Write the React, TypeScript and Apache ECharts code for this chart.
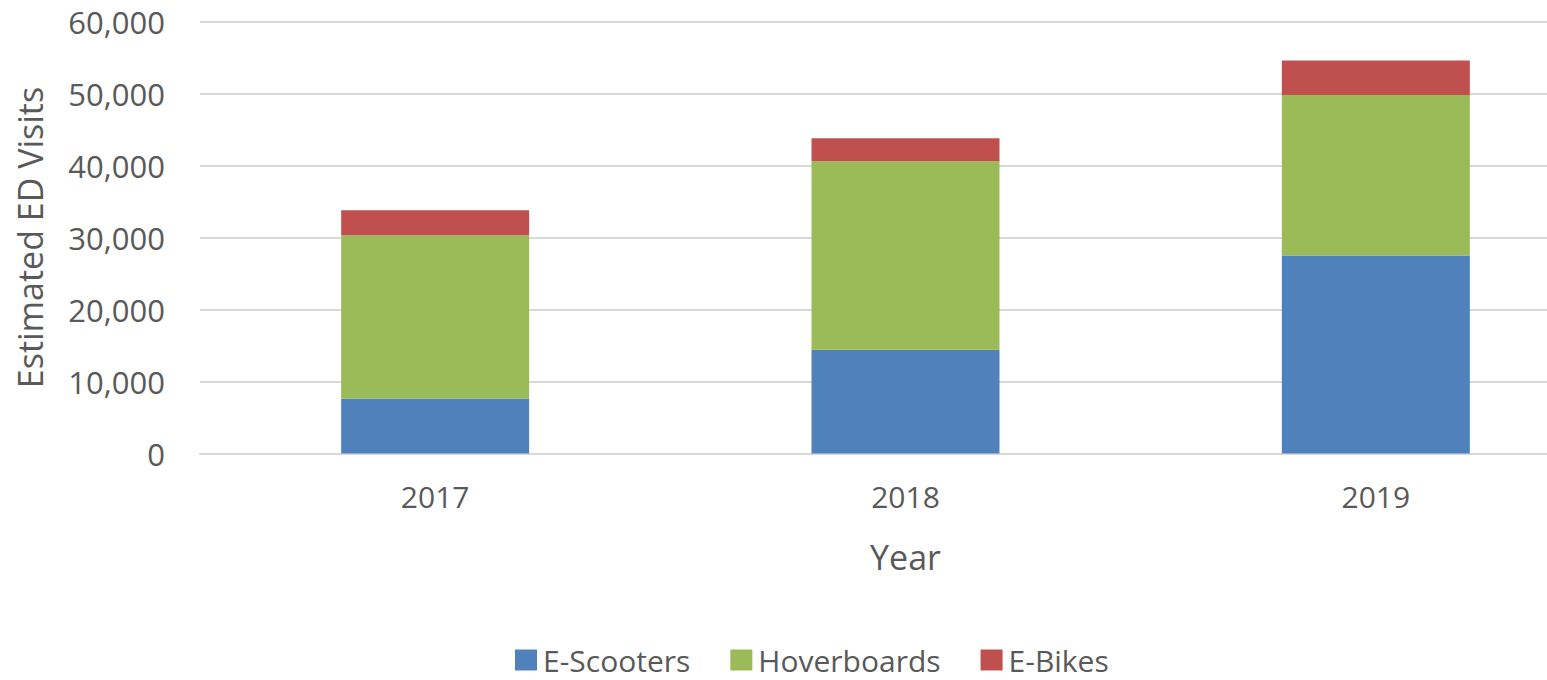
import React, { useEffect, useRef } from "react";
import * as echarts from "echarts";

const years = ["2017", "2018", "2019"];
const eScooters = [7600, 14400, 27500];
const hoverboards = [22700, 26200, 22300];
const eBikes = [3500, 3200, 4800];
const yTicks = [0, 10000, 20000, 30000, 40000, 50000, 60000];

const FONT = "'Open Sans', sans-serif";
const TEXT = "#595959";

export default function App() {
  const ref = useRef<HTMLDivElement>(null);
  useEffect(() => {
    if (!ref.current) return;
    const chart = echarts.init(ref.current, undefined, { renderer: "svg" });
    const bar = (name: string, data: number[], color: string) => ({
      name,
      type: "bar",
      stack: "total",
      data,
      barWidth: 188,
      itemStyle: { color },
    });
    chart.setOption({
      animation: false,
      textStyle: { fontFamily: FONT },
      grid: { left: 200, top: 21.5, right: 9, height: 432 },
      legend: {
        left: 510,
        top: 640,
        itemWidth: 22,
        itemHeight: 21,
        itemGap: 40,
        icon: "rect",
        textStyle: { fontFamily: FONT, fontSize: 30, color: TEXT, lineHeight: 30, padding: [0, 0, 0, 1] },
        data: ["E-Scooters", "Hoverboards", "E-Bikes"],
      },
      xAxis: {
        type: "category",
        data: years,
        name: "Year",
        nameLocation: "middle",
        nameGap: 86,
        nameTextStyle: { fontFamily: FONT, fontSize: 34, color: TEXT },
        axisLine: { lineStyle: { color: "#D9D9D9", width: 2 } },
        axisTick: { show: false },
        axisLabel: { fontFamily: FONT, fontSize: 30, color: TEXT, margin: 28 },
      },
      yAxis: {
        type: "value",
        min: yTicks[0],
        max: yTicks[yTicks.length - 1],
        interval: yTicks[1] - yTicks[0],
        name: "Estimated ED Visits",
        nameLocation: "middle",
        nameGap: 153,
        nameTextStyle: { fontFamily: FONT, fontSize: 34, color: TEXT },
        axisLine: { show: false },
        axisTick: { show: false },
        splitLine: { lineStyle: { color: "#D9D9D9", width: 2 } },
        axisLabel: {
          fontFamily: FONT,
          fontSize: 31,
          color: TEXT,
          margin: 35,
          formatter: (v: number) => v.toLocaleString("en-US"),
        },
      },
      series: [
        bar("E-Scooters", eScooters, "#4F81BD"),
        bar("Hoverboards", hoverboards, "#9BBB59"),
        bar("E-Bikes", eBikes, "#C0504D"),
      ],
    });
    return () => chart.dispose();
  }, []);
  return (
    <div
      style={{ position: "fixed", left: 0, top: 0, width: 1547, height: 680, overflow: "hidden", background: "#fff" }}
    >
      <div ref={ref} style={{ width: 1620, height: 680 }} />
    </div>
  );
}
